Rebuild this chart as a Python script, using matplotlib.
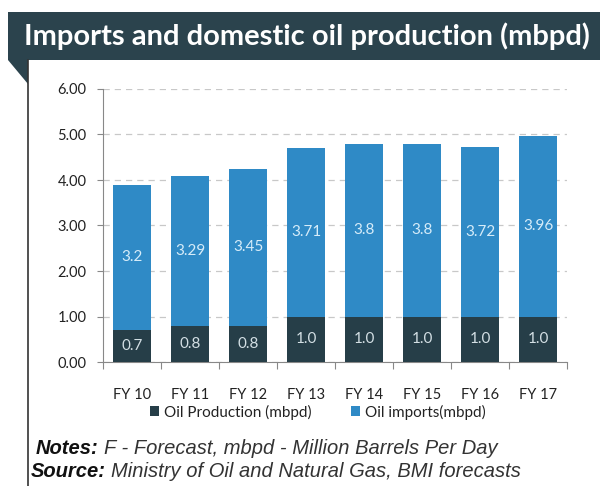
import matplotlib
matplotlib.use('Agg')
import matplotlib.pyplot as plt
from matplotlib.patches import Rectangle, Polygon
from matplotlib.lines import Line2D

# Data
years = ['FY 10', 'FY 11', 'FY 12', 'FY 13', 'FY 14', 'FY 15', 'FY 16', 'FY 17']
production = [0.7, 0.8, 0.8, 1.0, 1.0, 1.0, 1.0, 1.0]
imports = [3.2, 3.29, 3.45, 3.71, 3.8, 3.8, 3.72, 3.96]
prod_labels = ['0.7', '0.8', '0.8', '1.0', '1.0', '1.0', '1.0', '1.0']
imp_labels = ['3.2', '3.29', '3.45', '3.71', '3.8', '3.8', '3.72', '3.96']
yticks = [0, 1, 2, 3, 4, 5, 6]

# Style
W, H = 600, 486
dark = '#263e48'
blue = '#2f8ac6'
banner = '#2b434d'
tick_font = 'Lato'
fs = 10.5

fig = plt.figure(figsize=(W / 100, H / 100), dpi=100)
fig.patch.set_facecolor('white')


def px(x, y):
    # pixel coords (top-left origin) -> figure fraction
    return x / W, 1 - y / H


# Title banner
bx, by = px(8, 60)
fig.patches.append(Rectangle((bx, by), 1 - bx, 48 / H, transform=fig.transFigure,
                             fc=banner, ec='none'))
fig.patches.append(Polygon([px(8, 60), px(28, 60), px(28, 84)], closed=True,
                           transform=fig.transFigure, fc=banner, ec='none'))
fig.lines.append(Line2D([28 / W, 28 / W], [0, 1 - 60 / H], transform=fig.transFigure,
                        color='#333333', lw=1.2))
tx, ty = px(24, 36)
fig.text(tx, ty, 'Imports and domestic oil production (mbpd)', color='white',
         fontsize=21, fontweight='bold', family='Lato', va='center', ha='left')

# Axes
l, b = px(103, 362)
r, t = px(567, 89)
ax = fig.add_axes([l, b, r - l, t - b])
x = range(len(years))
ax.bar(x, production, width=0.65, color=dark, label='Oil Production (mbpd)', zorder=3)
ax.bar(x, imports, width=0.65, bottom=production, color=blue,
       label='Oil imports(mbpd)', zorder=3)

for i in x:
    ax.text(i, production[i] / 2, prod_labels[i], ha='center', va='center',
            color='#d3dfe4', fontsize=11, family=tick_font, zorder=4)
    ax.text(i, production[i] + imports[i] / 2, imp_labels[i], ha='center', va='center',
            color='#d6ecf9', fontsize=11, family=tick_font, zorder=4)

ax.set_xlim(-0.5, len(years) - 0.5)
ax.set_ylim(0, 6)
ax.set_yticks(yticks)
ax.set_yticklabels(['%.2f' % v for v in yticks], family=tick_font, fontsize=fs,
                   color='#222222')
ax.yaxis.grid(True, linestyle=(0, (5, 4)), color='#c8c8c8', lw=0.9, zorder=0)
ax.set_xticks([i + 0.5 for i in range(-1, len(years))], minor=False)
ax.set_xticklabels([])
ax.set_xticks(list(x), minor=True)
ax.set_xticklabels(years, minor=True, family=tick_font, fontsize=fs, color='#222222')
ax.tick_params(axis='x', which='major', length=5, color='#888888', direction='out')
ax.tick_params(axis='x', which='minor', length=0, pad=19)
ax.tick_params(axis='y', length=4, color='#888888', pad=8)
for s in ['top', 'right']:
    ax.spines[s].set_visible(False)
ax.spines['left'].set_color('#888888')
ax.spines['bottom'].set_color('#888888')

lx, ly = px(318, 412)
leg = fig.legend(loc='center', bbox_to_anchor=(lx, ly), ncol=2, frameon=False,
                 prop={'family': tick_font, 'size': 11}, handlelength=0.6,
                 handleheight=0.6, handletextpad=0.3, columnspacing=2.6)
for txt in leg.get_texts():
    txt.set_color('#222222')

# Notes: bold label followed by plain italic text
nfont = ['Liberation Sans Narrow', 'Liberation Sans']
renderer = fig.canvas.get_renderer()


def note(x0, y0, head, body):
    hx, hy = px(x0, y0)
    h = fig.text(hx, hy, head, fontsize=14.5, style='italic', fontweight='bold',
                 family=nfont, color='#111111', va='center')
    bb = h.get_window_extent(renderer)
    fig.text((bb.x1 + 5) / W, hy, body, fontsize=14.5, style='italic',
             family=nfont, color='#333333', va='center')


note(36, 448, 'Notes:', 'F - Forecast, mbpd - Million Barrels Per Day')
note(31, 471, 'Source:', 'Ministry of Oil and Natural Gas, BMI forecasts')

fig.savefig('out.png', dpi=100)
